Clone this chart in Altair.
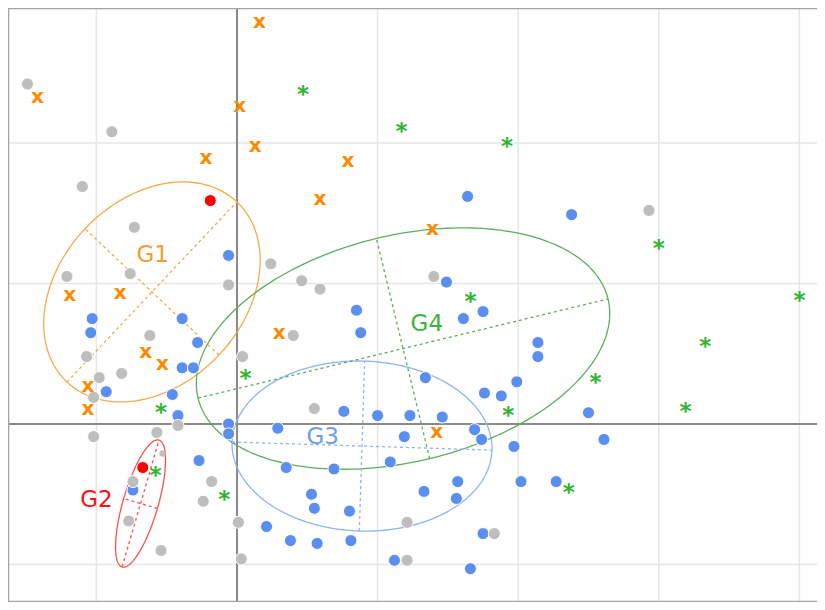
import altair as alt
import numpy as np
import pandas as pd

# ---------------- data (grid units) ----------------
gray_x = [-1.49, -0.89, -1.10, -0.73, -1.21, -0.76, -0.62, -1.07, -0.82, -0.98, -1.02,
          -1.02, -0.57, -0.42, -0.74, -0.18, -0.24, -0.77, -0.54, 0.01, 0.03, -0.06,
          0.04, 0.24, 0.46, 0.59, 0.40, 0.55, 1.40, 2.93, 1.21, 1.83, 1.21]
gray_y = [2.42, 2.08, 1.69, 1.40, 1.05, 1.07, 0.63, 0.48, 0.36, 0.33, 0.19,
          -0.09, -0.06, -0.01, -0.41, -0.41, -0.55, -0.69, -0.90, -0.70, -0.96, 0.99,
          0.48, 1.14, 1.02, 0.96, 0.63, 0.11, 1.05, 1.52, -0.70, -0.78, -0.97]
gray_small_x = [-0.53]
gray_small_y = [-0.21]

blue_x = [-0.06, -1.03, -1.04, -0.39, -0.28, -0.39, -0.31, -0.93, -0.46, -0.42, -0.06,
          -0.06, -0.27, -0.74, 0.29, 0.76, 1.00, 1.23, 1.46, 1.34, 1.76, 1.88, 1.99,
          1.19, 1.69, 1.74, 1.97, 0.35, 0.69, 1.09, 1.33, 1.57, 1.56, 0.53, 0.55,
          0.80, 0.21, 0.38, 0.57, 0.81, 1.75, 2.61, 2.02, 2.27, 1.12, 1.66, 1.64,
          2.38, 1.49, 1.61, 1.75, 2.14, 2.14, 2.50, 0.85, 0.88]
blue_y = [1.20, 0.75, 0.65, 0.75, 0.58, 0.40, 0.40, 0.23, 0.21, 0.06, 0.00,
          -0.07, -0.26, -0.47, -0.03, 0.09, 0.06, 0.06, 0.05, 0.33, 0.22, 0.20, 0.30,
          -0.09, -0.04, -0.11, -0.16, -0.31, -0.32, -0.27, -0.48, -0.41, -0.53, -0.50, -0.60,
          -0.62, -0.73, -0.83, -0.85, -0.83, -0.78, -0.11, -0.41, -0.41, -0.97, -1.03, 1.62,
          1.49, 1.01, 0.75, 0.80, 0.58, 0.48, 0.08, 0.81, 0.65]

red_x = [-0.19, -0.67]
red_y = [1.59, -0.31]

orange_x = [0.16, -1.42, 0.02, 0.13, -0.22, 0.79, 0.59, 1.39, -1.19, -0.83, 0.30,
            -0.65, -0.53, -1.06, -1.06, 1.42]
orange_y = [2.86, 2.33, 2.26, 1.98, 1.89, 1.87, 1.60, 1.39, 0.92, 0.93, 0.65,
            0.51, 0.43, 0.27, 0.11, -0.06]

green_x = [0.47, 1.17, 1.92, 3.00, 4.00, 1.66, 3.33, 2.55, 3.19, 1.93, 0.06,
           -0.54, -0.58, -0.09, 2.36]
green_y = [2.36, 2.10, 1.99, 1.27, 0.90, 0.89, 0.57, 0.31, 0.11, 0.08, 0.34,
           0.10, -0.35, -0.52, -0.47]

# ellipses (centre, semi-axes, rotation in degrees)
ell_name = ["G1", "G2", "G3", "G4"]
ell_cx = [-0.605, -0.686, 0.889, 1.181]
ell_cy = [0.940, -0.566, -0.157, 0.537]
ell_a = [0.881, 0.470, 0.925, 1.500]
ell_b = [0.655, 0.125, 0.605, 0.806]
ell_angle = [46.7, 73.8, -1.8, 13.6]
ell_color = ["#F7A94B", "#FF5050", "#8DB5F5", "#5DAE5D"]

label_text = ["G1", "G2", "G3", "G4"]
label_x = [-0.60, -1.00, 0.61, 1.35]
label_y = [1.20, -0.54, -0.09, 0.71]
label_color = ["#F59C34", "#FF1010", "#6D9EEB", "#3DB43D"]

grid_x = [-1, 1, 2, 3, 4]
grid_y = [-1, 1, 2]
zero_val = [0]

# ---------------- layout ----------------
W, H = 809, 594
PXX, PXY = 140.6, 140.5
xmin = -(237 - 8) / PXX
xmax = xmin + W / PXX
ymax = (424 - 8) / PXY
ymin = ymax - H / PXY

xs = alt.Scale(domain=[xmin, xmax], nice=False, zero=False)
ys = alt.Scale(domain=[ymin, ymax], nice=False, zero=False)
X = lambda f="x": alt.X(f"{f}:Q", scale=xs, axis=None)
Y = lambda f="y": alt.Y(f"{f}:Q", scale=ys, axis=None)

# ---------------- build tables ----------------
outline_rows, axis_rows = [], []
t = np.linspace(0, 2 * np.pi, 241)
for n, cx, cy, a, b, ang in zip(ell_name, ell_cx, ell_cy, ell_a, ell_b, ell_angle):
    th = np.deg2rad(ang)
    ex = cx + a * np.cos(t) * np.cos(th) - b * np.sin(t) * np.sin(th)
    ey = cy + a * np.cos(t) * np.sin(th) + b * np.sin(t) * np.cos(th)
    for i, (px, py) in enumerate(zip(ex, ey)):
        outline_rows.append({"name": n, "i": i, "x": px, "y": py})
    ux, uy = np.cos(th), np.sin(th)
    vx, vy = -np.sin(th), np.cos(th)
    axis_rows += [
        {"name": n, "seg": n + "a", "i": 0, "x": cx - a * ux, "y": cy - a * uy},
        {"name": n, "seg": n + "a", "i": 1, "x": cx + a * ux, "y": cy + a * uy},
        {"name": n, "seg": n + "b", "i": 0, "x": cx - b * vx, "y": cy - b * vy},
        {"name": n, "seg": n + "b", "i": 1, "x": cx + b * vx, "y": cy + b * vy},
    ]
outline_df = pd.DataFrame(outline_rows)
axis_df = pd.DataFrame(axis_rows)
ell_scale = alt.Scale(domain=ell_name, range=ell_color)

pts = pd.concat([
    pd.DataFrame({"x": blue_x, "y": blue_y, "g": "blue"}),
    pd.DataFrame({"x": gray_x, "y": gray_y, "g": "gray"}),
    pd.DataFrame({"x": red_x, "y": red_y, "g": "red"}),
])
pt_scale = alt.Scale(domain=["blue", "gray", "red"], range=["#5B8FEF", "#BEBEBE", "#FF0000"])

orange_df = pd.DataFrame({"x": orange_x, "y": orange_y})
green_df = pd.DataFrame({"x": green_x, "y": green_y})
labels_df = pd.DataFrame({"t": label_text, "x": label_x, "y": label_y, "c": label_color})

# ---------------- layers ----------------
gridv = alt.Chart(pd.DataFrame({"x": grid_x})).mark_rule(color="#E6E6E6", strokeWidth=1.5).encode(x=X())
gridh = alt.Chart(pd.DataFrame({"y": grid_y})).mark_rule(color="#E6E6E6", strokeWidth=1.5).encode(y=Y())
zerov = alt.Chart(pd.DataFrame({"x": zero_val})).mark_rule(color="#8A8A8A", strokeWidth=2).encode(x=X())
zeroh = alt.Chart(pd.DataFrame({"y": zero_val})).mark_rule(color="#8A8A8A", strokeWidth=2).encode(y=Y())

frame_style = dict(color="#A3A3A3", strokeWidth=2.5)
frame_l = alt.Chart(pd.DataFrame({"k": [0]})).mark_rule(**frame_style).encode(
    x=alt.value(0), y=alt.value(0), y2=alt.value(H))
frame_t = alt.Chart(pd.DataFrame({"k": [0]})).mark_rule(**frame_style).encode(
    y=alt.value(0), x=alt.value(0), x2=alt.value(W))
frame_b = alt.Chart(pd.DataFrame({"k": [0]})).mark_rule(**frame_style).encode(
    y=alt.value(H), x=alt.value(0), x2=alt.value(W))

ell_lines = alt.Chart(outline_df).mark_line(strokeWidth=1.3).encode(
    x=X(), y=Y(), order="i:Q", detail="name:N",
    color=alt.Color("name:N", scale=ell_scale, legend=None))
ell_axes = alt.Chart(axis_df).mark_line(strokeWidth=1.3, strokeDash=[3, 3]).encode(
    x=X(), y=Y(), order="i:Q", detail="seg:N",
    color=alt.Color("name:N", scale=ell_scale, legend=None))

circles = alt.Chart(pts).mark_point(filled=True, shape="circle", size=145, opacity=1,
                                    stroke="white", strokeWidth=1).encode(
    x=X(), y=Y(), fill=alt.Fill("g:N", scale=pt_scale, legend=None))
small_gray = alt.Chart(pd.DataFrame({"x": gray_small_x, "y": gray_small_y})).mark_point(
    filled=True, shape="circle", size=40, opacity=1, color="#BEBEBE").encode(x=X(), y=Y())

x_mark = alt.Chart(orange_df).mark_text(
    text="x", font="DejaVu Sans", fontWeight="bold", fontSize=20,
    align="center", baseline="middle", color="#FF8A00").encode(x=X(), y=Y())

star_mark = alt.Chart(green_df).mark_text(
    text="*", font="DejaVu Sans", fontWeight="bold", fontSize=23,
    align="center", baseline="middle", dy=3, color="#2DB52D").encode(x=X(), y=Y())

labels = alt.Chart(labels_df).mark_text(font="DejaVu Sans", fontSize=23, align="center",
                                        baseline="middle").encode(
    x=X(), y=Y(), text="t:N", color=alt.Color("c:N", scale=None))

chart = alt.layer(
    gridv, gridh, zerov, zeroh, frame_l, frame_t, frame_b,
    ell_lines, ell_axes, circles, small_gray, x_mark, star_mark, labels
).properties(
    width=W, height=H, padding=0, autosize=alt.AutoSizeParams(type="none")
).configure_view(stroke=None)

chart.save("out.html", embed_options={"renderer": "svg", "actions": False})
